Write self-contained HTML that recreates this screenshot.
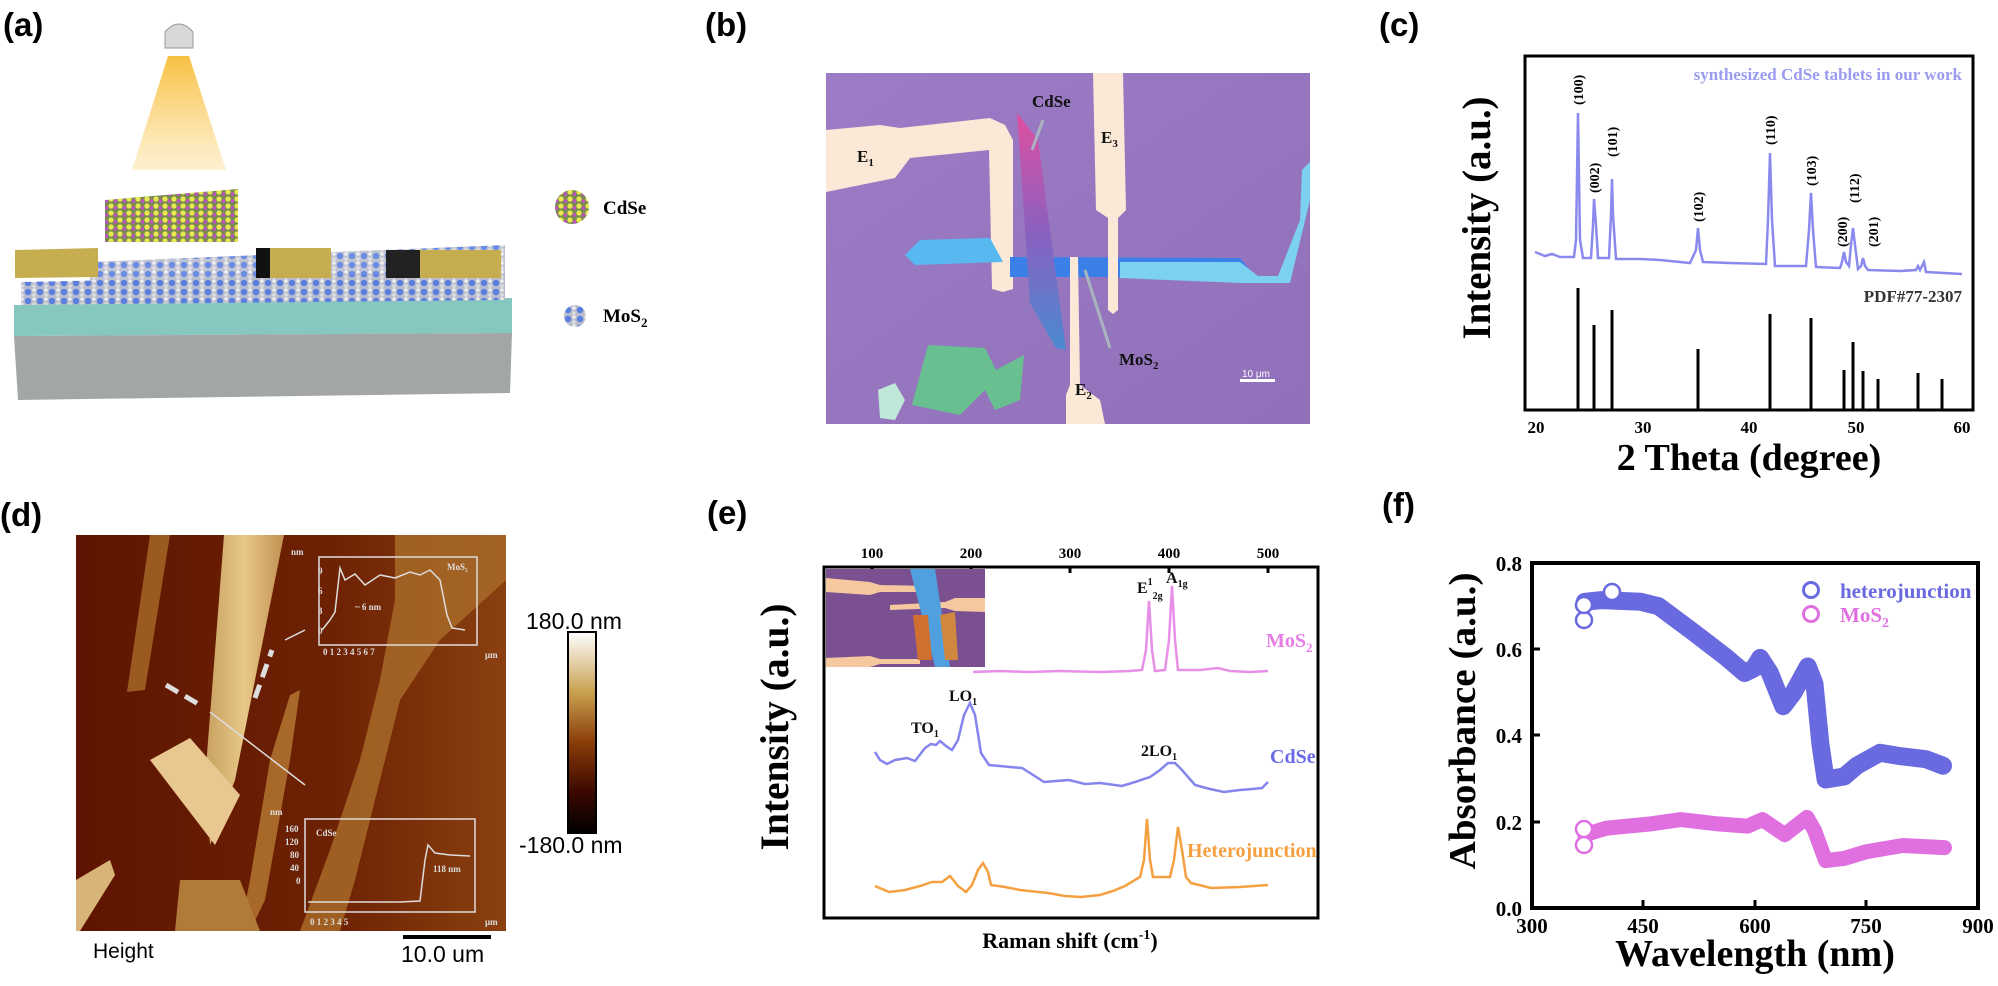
<!DOCTYPE html>
<html><head><meta charset="utf-8"><style>
html,body{margin:0;padding:0;background:#fff;}
svg{display:block;}
.t{font-family:"Liberation Serif",serif;font-weight:bold;}
.a{font-family:"Liberation Sans",sans-serif;}
</style></head><body>
<svg width="1998" height="986" viewBox="0 0 1998 986" xmlns="http://www.w3.org/2000/svg">
<defs>
<linearGradient id="beam" x1="0" y1="0" x2="0" y2="1"><stop offset="0" stop-color="#f7c040"/><stop offset="1" stop-color="#fde6b0" stop-opacity="0.6"/></linearGradient>
<pattern id="mos" width="12" height="9" patternUnits="userSpaceOnUse"><rect width="12" height="9" fill="#b9bccc"/><circle cx="4" cy="4" r="3.2" fill="#5b7fe0"/><circle cx="10" cy="2" r="1.8" fill="#eee"/><circle cx="10" cy="7" r="1.8" fill="#ddd"/></pattern>
<pattern id="cdse" width="9" height="7" patternUnits="userSpaceOnUse"><rect width="9" height="7" fill="#7a8a50"/><circle cx="3" cy="3" r="2.6" fill="#e8e850"/><circle cx="7.5" cy="5" r="1.8" fill="#c050c8"/></pattern>
<linearGradient id="bbg" x1="0" y1="0" x2="1" y2="1"><stop offset="0" stop-color="#9c7cc6"/><stop offset="1" stop-color="#9070b8"/></linearGradient>
<linearGradient id="flake" x1="0" y1="0" x2="0" y2="1"><stop offset="0" stop-color="#e050a0"/><stop offset="0.5" stop-color="#8a60c0"/><stop offset="1" stop-color="#4a8ad0"/></linearGradient>
<linearGradient id="afm" x1="0" y1="0" x2="1" y2="0"><stop offset="0" stop-color="#5e1400"/><stop offset="0.6" stop-color="#6e2204"/><stop offset="1" stop-color="#8a4010"/></linearGradient>
<linearGradient id="cbar" x1="0" y1="0" x2="0" y2="1"><stop offset="0" stop-color="#ffffff"/><stop offset="0.3" stop-color="#c8a050"/><stop offset="0.55" stop-color="#8a3c08"/><stop offset="0.8" stop-color="#3a0800"/><stop offset="1" stop-color="#000"/></linearGradient>
<linearGradient id="strip" x1="0" y1="0" x2="1" y2="0"><stop offset="0" stop-color="#c8a060"/><stop offset="0.5" stop-color="#e8c888"/><stop offset="1" stop-color="#c09050"/></linearGradient>
</defs>

<!-- panel labels -->
<g class="a" font-weight="bold" font-size="33" fill="#000">
<text x="3" y="36">(a)</text><text x="705" y="36">(b)</text><text x="1379" y="36">(c)</text>
<text x="0" y="526">(d)</text><text x="707" y="524">(e)</text><text x="1382" y="516">(f)</text>
</g>

<!-- (a) schematic -->
<g>
<path d="M168,56 L189,56 L226,170 L132,170 Z" fill="url(#beam)"/>
<path d="M165,48 L165,32 Q179,16 193,32 L193,48 Z" fill="#d8d8d8" stroke="#999" stroke-width="1"/>
<polygon points="14,305 512,298 512,333 14,336" fill="#86c8c0"/>
<polygon points="14,336 512,333 510,393 18,400" fill="#a2a6a6"/>
<polygon points="21,282 505,272 505,300 21,305" fill="url(#mos)"/>
<polygon points="90,262 505,245 505,275 90,285" fill="url(#mos)" opacity="0.9"/>
<polygon points="15,250 98,248 98,277 15,278" fill="#c6ae50"/>
<polygon points="256,248 331,248 331,278 256,278" fill="#c6ae50"/>
<polygon points="256,248 270,248 270,278 256,278" fill="#111"/>
<polygon points="386,250 501,250 501,278 386,278" fill="#c6ae50"/>
<polygon points="386,250 420,250 420,278 386,278" fill="#222"/>
<polygon points="105,200 238,189 238,242 105,242" fill="url(#cdse)"/>
<g fill="url(#cdse)"><circle cx="572" cy="207" r="17"/></g>
<text class="t" x="603" y="214" font-size="19">CdSe</text>
<g fill="url(#mos)"><circle cx="575" cy="316" r="11"/></g>
<text class="t" x="603" y="322" font-size="19">MoS<tspan font-size="13" dy="5">2</tspan></text>
</g>

<!-- (b) micrograph -->
<g>
<rect x="826" y="73" width="484" height="351" fill="url(#bbg)"/>
<polygon points="826,130 880,125 900,128 990,118 1005,125 1013,140 1013,289 1003,292 992,289 989,150 910,158 895,178 826,192" fill="#fce8d6"/>
<polygon points="905,255 920,240 990,238 1003,262 915,265" fill="#58b8f0"/>
<polygon points="1010,257 1240,258 1250,270 1240,277 1010,277" fill="#3a80e8"/>
<polygon points="1120,262 1240,262 1258,276 1278,276 1300,220 1302,170 1310,162 1310,200 1290,283 1240,283 1120,278" fill="#7cd0f0"/>
<polygon points="1017,113 1038,140 1066,350 1056,348 1030,303" fill="url(#flake)"/>
<polygon points="1093,73 1123,73 1126,210 1118,218 1118,310 1113,314 1108,310 1108,218 1096,210" fill="#fce8d6"/>
<polygon points="1070,257 1078,257 1080,385 1100,400 1105,424 1066,424 1066,395 1070,385" fill="#fce8d6"/>
<polygon points="912,405 928,345 985,348 996,370 1024,355 1020,400 995,410 985,390 960,415" fill="#68c090"/>
<polygon points="878,390 895,383 905,400 895,420 880,418" fill="#c0e8d8"/>
<g stroke="#aab4c0" stroke-width="3" fill="none"><line x1="1032" y1="150" x2="1043" y2="120"/><line x1="1085" y1="270" x2="1110" y2="348"/></g>
<g class="t" font-size="17" fill="#111">
<text x="857" y="162">E<tspan font-size="11" dy="4">1</tspan></text>
<text x="1032" y="107">CdSe</text>
<text x="1101" y="143">E<tspan font-size="11" dy="4">3</tspan></text>
<text x="1119" y="365">MoS<tspan font-size="11" dy="4">2</tspan></text>
<text x="1075" y="395">E<tspan font-size="11" dy="4">2</tspan></text>
</g>
<text class="a" x="1242" y="377" font-size="10" fill="#fff">10 μm</text>
<rect x="1240" y="379" width="35" height="3" fill="#fff"/>
</g>

<!-- (c) XRD -->
<g>
<rect x="1525" y="56" width="448" height="354" fill="none" stroke="#000" stroke-width="3"/>
<text class="t" x="1962" y="80" font-size="17" fill="#9b9bf0" text-anchor="end">synthesized CdSe tablets in our work</text>
<path d="M1535,252 L1545,256 L1552,254 L1560,257 L1574,257 L1576,240 L1578,113 L1580,240 L1583,258 L1591,258 L1593,225 L1594,199 L1596,225 L1598,258 L1609,258 L1611,215 L1612,179 L1613,215 L1616,259 L1640,259 L1660,260 L1690,263 L1696,250 L1698,228 L1700,250 L1703,262 L1730,263 L1766,264 L1768,220 L1770,153 L1772,220 L1775,266 L1806,266 L1809,230 L1811,193 L1813,230 L1816,267 L1840,268 L1842,262 L1844,252 L1846,262 L1849,266 L1851,245 L1853,228 L1855,245 L1858,269 L1861,266 L1863,258 L1865,266 L1868,270 L1900,271 L1916,270 L1918,266 L1920,270 L1924,262 L1926,272 L1962,274" fill="none" stroke="#8a8aee" stroke-width="2.5"/>
<g class="t" font-size="14" fill="#000">
<text transform="translate(1583,105) rotate(-90)">(100)</text>
<text transform="translate(1599,193) rotate(-90)">(002)</text>
<text transform="translate(1617,157) rotate(-90)">(101)</text>
<text transform="translate(1703,222) rotate(-90)">(102)</text>
<text transform="translate(1775,145) rotate(-90)">(110)</text>
<text transform="translate(1816,186) rotate(-90)">(103)</text>
<text transform="translate(1847,247) rotate(-90)">(200)</text>
<text transform="translate(1859,203) rotate(-90)">(112)</text>
<text transform="translate(1878,247) rotate(-90)">(201)</text>
</g>
<text class="t" x="1962" y="302" font-size="17" fill="#333" text-anchor="end">PDF#77-2307</text>
<g stroke="#000" stroke-width="3">
<line x1="1578" y1="288" x2="1578" y2="410"/><line x1="1594" y1="325" x2="1594" y2="410"/><line x1="1612" y1="310" x2="1612" y2="410"/>
<line x1="1698" y1="349" x2="1698" y2="410"/><line x1="1770" y1="314" x2="1770" y2="410"/><line x1="1811" y1="318" x2="1811" y2="410"/>
<line x1="1844" y1="370" x2="1844" y2="410"/><line x1="1853" y1="342" x2="1853" y2="410"/><line x1="1863" y1="371" x2="1863" y2="410"/>
<line x1="1878" y1="379" x2="1878" y2="410"/><line x1="1918" y1="373" x2="1918" y2="410"/><line x1="1942" y1="379" x2="1942" y2="410"/>
</g>
<g class="t" font-size="17" text-anchor="middle"><text x="1536" y="433">20</text><text x="1643" y="433">30</text><text x="1749" y="433">40</text><text x="1856" y="433">50</text><text x="1962" y="433">60</text></g>
<text class="t" x="1749" y="470" font-size="38" text-anchor="middle">2 Theta (degree)</text>
<text class="t" transform="translate(1490,218) rotate(-90)" font-size="40" text-anchor="middle" textLength="243" lengthAdjust="spacingAndGlyphs">Intensity (a.u.)</text>
</g>

<!-- (d) AFM -->
<g>
<rect x="76" y="535" width="430" height="396" fill="url(#afm)"/>
<polygon points="150,535 170,535 145,690 127,692" fill="#9a5a20"/>
<polygon points="395,535 506,535 506,580 440,640 400,700 355,880 340,931 300,931 330,850 360,760 380,680 395,600" fill="#a86a28" opacity="0.85"/>
<polygon points="290,695 300,690 290,760 265,900 250,931 240,931 250,880 270,760" fill="#a8682a"/>
<polygon points="180,880 240,880 260,931 175,931" fill="#b07a38"/>
<polygon points="224,535 284,535 235,780 210,845 205,780" fill="url(#strip)"/>
<polygon points="150,760 190,738 240,795 215,845" fill="#e8c890"/>
<polygon points="76,880 110,860 115,875 80,931 76,931" fill="#d8b478"/>
<g stroke="#ddd" stroke-width="5" stroke-dasharray="14,8"><line x1="166" y1="685" x2="200" y2="705"/><line x1="255" y1="698" x2="272" y2="650"/></g>
<g stroke="#ddd" stroke-width="1.5" fill="none"><line x1="210" y1="712" x2="305" y2="785"/><line x1="285" y1="640" x2="305" y2="630"/>
<rect x="319" y="557" width="158" height="88"/><rect x="305" y="819" width="170" height="93"/>
<polyline points="322,630 330,620 335,612 340,568 345,580 355,574 365,585 380,575 395,578 410,572 420,575 430,570 440,580 447,615 452,628 465,630"/>
<polyline points="308,902 360,902 400,902 420,901 425,860 428,845 435,853 450,855 470,856"/>
</g>
<g class="t" font-size="9" fill="#ddd">
<text x="291" y="555">nm</text><text x="447" y="570">MoS₂</text><text x="355" y="610">~ 6 nm</text>
<text x="270" y="815">nm</text><text x="316" y="836">CdSe</text><text x="433" y="872">118 nm</text>
<text x="318" y="574">9</text><text x="318" y="594">6</text><text x="318" y="614">3</text><text x="318" y="634">0</text>
<text x="285" y="832">160</text><text x="285" y="845">120</text><text x="290" y="858">80</text><text x="290" y="871">40</text><text x="296" y="884">0</text>
<text x="323" y="655">0   1   2   3   4   5   6   7</text><text x="485" y="658">μm</text>
<text x="310" y="925">0     1     2     3     4     5</text><text x="485" y="925">μm</text>
</g>
<rect x="568" y="632" width="28" height="201" fill="url(#cbar)" stroke="#000" stroke-width="2"/>
<g class="a" font-size="23" fill="#000">
<text x="526" y="629">180.0 nm</text><text x="519" y="853">-180.0 nm</text>
<text x="93" y="958" font-size="21">Height</text><text x="401" y="962">10.0 um</text>
</g>
<rect x="403" y="935" width="88" height="4" fill="#000"/>
</g>

<!-- (e) Raman -->
<g>
<rect x="824" y="567" width="494" height="351" fill="none" stroke="#000" stroke-width="3"/>
<g stroke="#000" stroke-width="3"><line x1="872" y1="567" x2="872" y2="573"/><line x1="971" y1="567" x2="971" y2="573"/><line x1="1070" y1="567" x2="1070" y2="573"/><line x1="1169" y1="567" x2="1169" y2="573"/><line x1="1268" y1="567" x2="1268" y2="573"/></g>
<g class="t" font-size="15" text-anchor="middle"><text x="872" y="558">100</text><text x="971" y="558">200</text><text x="1070" y="558">300</text><text x="1169" y="558">400</text><text x="1268" y="558">500</text></g>
<rect x="826" y="569" width="159" height="98" fill="#7a5090"/>
<polygon points="826,578 870,582 880,585 930,586 932,592 880,592 870,595 826,592" fill="#f5c8a0"/>
<polygon points="890,605 945,602 955,598 985,598 985,612 955,611 945,608 890,610" fill="#f5c8a0"/>
<polygon points="826,658 870,656 880,659 920,659 920,664 880,664 870,667 826,667" fill="#f5c8a0"/>
<polygon points="910,569 935,569 950,667 935,667" fill="#50a0e0"/>
<polygon points="913,615 928,615 932,660 918,660" fill="#d07030"/>
<polygon points="940,615 955,612 958,660 945,660" fill="#d08840"/>
<polyline points="973,672 1000,671 1030,672 1060,671 1100,672 1130,671 1142,670 1146,650 1149,601 1152,650 1155,671 1165,670 1169,640 1172,586 1175,640 1178,670 1200,670 1218,668 1230,671 1250,672 1268,671" fill="none" stroke="#e890e8" stroke-width="2.5"/>
<polyline points="875,752 880,760 887,764 895,760 907,758 915,761 925,748 931,744 936,745 940,741 946,746 952,750 958,740 964,715 970,703 975,715 981,753 989,765 1000,766 1010,767 1022,768 1030,773 1044,782 1056,781 1069,780 1085,784 1100,783 1122,786 1135,782 1150,777 1160,770 1168,763 1175,763 1182,770 1195,785 1210,789 1224,792 1240,790 1252,789 1262,788 1268,782" fill="none" stroke="#8585ee" stroke-width="2.5"/>
<polyline points="875,886 889,892 905,890 920,886 932,882 942,882 950,876 958,886 966,892 972,885 978,870 983,863 988,872 991,885 1005,887 1020,890 1048,893 1065,896 1081,897 1100,895 1113,891 1125,886 1140,877 1144,860 1147,819 1150,860 1153,877 1170,877 1174,860 1178,827 1182,850 1186,877 1191,883 1211,888 1240,887 1268,885" fill="none" stroke="#f5a040" stroke-width="2.5"/>
<g class="t" font-size="16" fill="#111">
<text x="1137" y="593">E<tspan font-size="10" dy="-8">1</tspan><tspan font-size="10" dy="14">2g</tspan></text>
<text x="1166" y="583">A<tspan font-size="10" dy="4">1g</tspan></text>
<text x="949" y="701">LO<tspan font-size="10" dy="4">1</tspan></text>
<text x="911" y="733">TO<tspan font-size="10" dy="4">1</tspan></text>
<text x="1141" y="756">2LO<tspan font-size="10" dy="4">1</tspan></text>
</g>
<g class="t" font-size="20">
<text x="1266" y="647" fill="#e67de6">MoS<tspan font-size="13" dy="5">2</tspan></text>
<text x="1270" y="763" fill="#6a6ae8">CdSe</text>
<text x="1187" y="857" fill="#f5a040">Heterojunction</text>
</g>
<text class="t" x="1070" y="948" font-size="22" text-anchor="middle">Raman shift (cm<tspan font-size="14" dy="-9">-1</tspan><tspan dy="9">)</tspan></text>
<text class="t" transform="translate(788,727) rotate(-90)" font-size="40" text-anchor="middle" textLength="247" lengthAdjust="spacingAndGlyphs">Intensity (a.u.)</text>
</g>

<!-- (f) Absorbance -->
<g>
<polyline points="1584.8,601.8 1601.9,600.1 1640.5,601.8 1658.4,606.1 1690.3,629.8 1725.3,656.6 1744.6,673 1753.5,668.7 1760.2,657.9 1769.9,673 1783.2,706.2 1793.6,692.5 1807.8,666.5 1814.5,683.8 1820.4,744.1 1825.6,779.5 1844.2,776.5 1856.8,765.7 1879.9,752.8 1900.7,756.2 1925.9,759.2 1943,765.7" fill="none" stroke="#6a6ae0" stroke-width="18" stroke-linejoin="round" stroke-linecap="round"/>
<polyline points="1584.8,834.7 1606.3,828.2 1650.9,823.9 1680.7,819.6 1717.8,823.9 1747.6,826.1 1762.4,819.6 1784.7,834.7 1807,817.4 1814.5,830.4 1825.6,860.6 1844.2,858.4 1865.5,851.9 1902.7,845.5 1944.5,847.6" fill="none" stroke="#e070e0" stroke-width="15" stroke-linejoin="round" stroke-linecap="round"/>
<g fill="#fff" stroke="#6a6ae0" stroke-width="2.5"><circle cx="1584" cy="620" r="8"/><circle cx="1584" cy="605" r="8"/><circle cx="1612" cy="592" r="8"/></g>
<g fill="#fff" stroke="#e070e0" stroke-width="2.5"><circle cx="1584" cy="845" r="8"/><circle cx="1584" cy="829" r="8"/></g>
<rect x="1532" y="563" width="446" height="345" fill="none" stroke="#000" stroke-width="4"/>
<g stroke="#000" stroke-width="3">
<line x1="1532" y1="649" x2="1540" y2="649"/><line x1="1532" y1="735" x2="1540" y2="735"/><line x1="1532" y1="822" x2="1540" y2="822"/>
<line x1="1643" y1="908" x2="1643" y2="900"/><line x1="1755" y1="908" x2="1755" y2="900"/><line x1="1866" y1="908" x2="1866" y2="900"/>
</g>
<g class="t" font-size="21" text-anchor="end"><text x="1522" y="571">0.8</text><text x="1522" y="657">0.6</text><text x="1522" y="743">0.4</text><text x="1522" y="830">0.2</text><text x="1522" y="916">0.0</text></g>
<g class="t" font-size="21" text-anchor="middle"><text x="1532" y="933">300</text><text x="1643" y="933">450</text><text x="1755" y="933">600</text><text x="1866" y="933">750</text><text x="1978" y="933">900</text></g>
<circle cx="1811" cy="590" r="7.5" fill="none" stroke="#6a6ae0" stroke-width="3"/>
<circle cx="1811" cy="614" r="7.5" fill="none" stroke="#e070e0" stroke-width="3"/>
<text class="t" x="1840" y="598" font-size="21" fill="#6a6ae0">heterojunction</text>
<text class="t" x="1840" y="622" font-size="21" fill="#e070e0">MoS<tspan font-size="14" dy="5">2</tspan></text>
<text class="t" x="1755" y="966" font-size="38" text-anchor="middle">Wavelength (nm)</text>
<text class="t" transform="translate(1475,721) rotate(-90)" font-size="38" text-anchor="middle" textLength="297" lengthAdjust="spacingAndGlyphs">Absorbance (a.u.)</text>
</g>
</svg>
</body></html>
